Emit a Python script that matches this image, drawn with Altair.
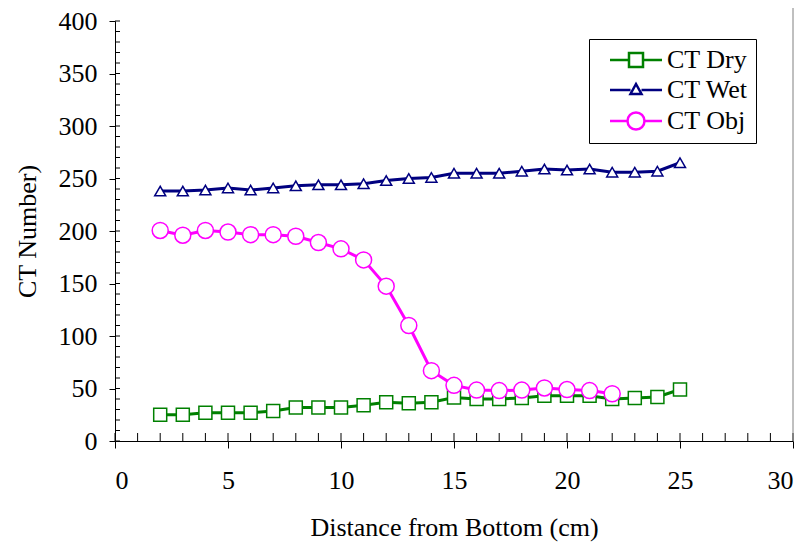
import altair as alt
import pandas as pd

# ---- data ----
series_names = ["CT Dry", "CT Wet", "CT Obj"]
series_colors = ["#008000", "#000080", "#FF00FF"]

x_dry = list(range(2, 26))
ct_dry = [25, 25, 27, 27, 27, 28.5, 32, 32, 32, 34, 37, 36,
          37, 41.5, 40, 40, 41, 43, 43, 43, 40, 41, 42, 49]

x_wet = list(range(2, 26))
ct_wet = [238, 238, 239, 241, 239, 241, 243, 244, 244, 245, 248, 250,
          251, 255, 255, 255, 257, 259, 258, 259, 256, 256, 257, 265]

x_obj = list(range(2, 23))
ct_obj = [200.5, 196, 200.5, 199, 196.5, 196.5, 195, 189, 183, 172.5, 147.5,
          110, 67, 53, 48.5, 48, 48.5, 50.5, 49, 48, 45]

x_major = [0, 5, 10, 15, 20, 25, 30]
y_major = [0, 50, 100, 150, 200, 250, 300, 350, 400]
x_minor = list(range(0, 31))
y_minor = list(range(0, 401, 10))

rows = []
for name, xs_, ys_ in zip(series_names, [x_dry, x_wet, x_obj], [ct_dry, ct_wet, ct_obj]):
    rows += [{"x": a, "v": b, "series": name} for a, b in zip(xs_, ys_)]
df = pd.DataFrame(rows)

W, H = 678, 420
FONT = "Times New Roman, Liberation Serif, Tinos, serif"

xscale = alt.Scale(domain=[0, 30], nice=False, zero=False)
yscale = alt.Scale(domain=[0, 400], nice=False)

X = alt.X("x:Q", scale=xscale,
          axis=alt.Axis(values=x_major, title="Distance from Bottom (cm)", format="d",
                        tickSize=7, labelPadding=19, titlePadding=21))
Y = alt.Y("v:Q", scale=yscale,
          axis=alt.Axis(values=y_major, title="CT Number)", format="d",
                        tickSize=6, labelPadding=12, titlePadding=18))

layers = []

# inside (minor) ticks
layers.append(
    alt.Chart(pd.DataFrame({"x": x_minor})).mark_rule(color="black", strokeWidth=1)
    .encode(x=X, y=alt.value(H), y2=alt.value(H - 8))
)
layers.append(
    alt.Chart(pd.DataFrame({"v": y_minor})).mark_rule(color="black", strokeWidth=1)
    .encode(y=Y, x=alt.value(0), x2=alt.value(5))
)
# right frame line
layers.append(
    alt.Chart(pd.DataFrame({"x": [30]})).mark_rule(color="#808080", strokeWidth=1)
    .encode(x=X, y=alt.value(-14), y2=alt.value(H))
)

shapes = ["square", "triangle-up", "circle"]
sizes = [169, 121, 256]
for name, col, shp, sz in zip(series_names, series_colors, shapes, sizes):
    sub = alt.Chart(df).transform_filter(alt.datum.series == name)
    layers.append(sub.mark_line(color=col, strokeWidth=3).encode(x=X, y=Y))
    layers.append(
        sub.mark_point(shape=shp, size=sz, filled=True, fill="white", stroke=col,
                       strokeWidth=1.5, opacity=1)
        .encode(x=X, y=Y)
    )

legend_paths = [
    "M-2.6,0H-0.7M0.7,0H2.6M-0.7,-0.7H0.7V0.7H-0.7Z",
    "M-2.6,0H-0.55M0.55,0H2.6M0,-0.6L0.55,0.4H-0.55Z",
    "M-2.6,0H-0.85M0.85,0H2.6M-0.85,0A0.85,0.85 0 1,0 0.85,0A0.85,0.85 0 1,0 -0.85,0Z",
]

leg = alt.Legend(title=None, orient="none", legendX=474, legendY=18, padding=8,
                 strokeColor="black", fillColor="white",
                 labelFont=FONT, labelFontSize=26, labelColor="black",
                 symbolSize=400, symbolStrokeWidth=2.5, symbolOffset=26,
                 labelOffset=18, rowPadding=4, symbolFillColor="white")

layers.append(
    alt.Chart(df).transform_filter("false")
    .mark_point(filled=False, opacity=1, strokeWidth=2.5, size=400)
    .encode(
        x=X, y=Y,
        color=alt.Color("series:N", scale=alt.Scale(domain=series_names, range=series_colors), legend=leg),
        shape=alt.Shape("series:N", scale=alt.Scale(domain=series_names, range=legend_paths), legend=leg),
    )
)

chart = (
    alt.layer(*layers)
    .properties(width=W, height=H,
                autosize=alt.AutoSizeParams(type="none"),
                padding={"left": 107, "top": 13, "right": 8, "bottom": 106},
                background="white")
    .configure(font=FONT)
    .configure_axis(labelFont=FONT, titleFont=FONT, labelFontSize=26, titleFontSize=26,
                    titleFontWeight="normal", labelColor="black", titleColor="black",
                    grid=False, domainColor="black", tickColor="black", domainWidth=1, tickWidth=1)
    .configure_view(stroke=None)
)

chart.save("out.html", embed_options={"renderer": "svg", "actions": False})
